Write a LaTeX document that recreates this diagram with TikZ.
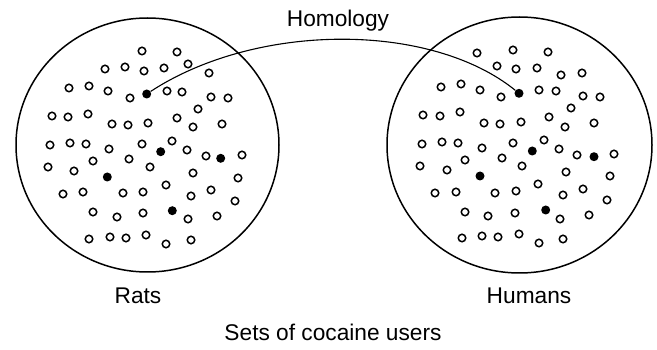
\documentclass[tikz,border=0pt]{standalone}
\usepackage{fontspec}
\setmainfont{Liberation Sans}
\tikzset{
  opendot/.style={circle, draw, line width=1.5pt, fill=white, inner sep=0pt, minimum size=7.5pt},
  userdot/.style={circle, fill=black, inner sep=0pt, minimum size=9pt},
  setlabel/.style={anchor=base, inner sep=0pt, font=\fontsize{22.7}{27}\selectfont}
}
\begin{document}
\begin{tikzpicture}[x=1pt, y=-1pt]
  \useasboundingbox (0,0) rectangle (657,350);
  \draw[line width=1.5pt] (147.5,145) ellipse [x radius=131.5pt, y radius=127pt];
  \draw[line width=1.5pt] (519.5,145) ellipse [x radius=132.5pt, y radius=128pt];
  % rats
  \foreach \x/\y [count=\i] in {142/51, 177/52, 105/69, 125/67, 144/71, 164/68, 188/64, 209/73,
      69/88, 89/86, 108/91, 130/98, 167/91, 182/92, 211/97, 228/98, 198/109,
      52/116, 68/117, 88/114, 112/124, 128/125, 148/123, 177/118, 193/127, 222/124,
      50/145, 70/143, 86/144, 109/149, 142/144, 172/141, 187/150, 206/156, 242/155,
      48/167, 74/171, 93/161, 129/159, 150/167, 193/173, 238/178,
      63/194, 83/192, 123/193, 143/192, 166/185, 191/196, 211/190, 235/201,
      93/212, 117/217, 143/213, 188/219, 217/216,
      89/239, 110/237, 126/238, 146/235, 166/244, 191/240}
    \node[opendot] (r\i) at (\x,\y) {};
  \node[userdot] (r-sel) at (146.7,94) {};
  \foreach \x/\y [count=\i] in {160.7/151.7, 220.7/158.3, 107.3/177, 172.3/210.7}
    \node[userdot] (r-use\i) at (\x,\y) {};
  % humans
  \foreach \x/\y [count=\i] in {477/53, 513/50, 548/52, 497/66, 516/69, 537/68, 561/75, 582/73,
      441/87, 461/84, 480/90, 501/97, 539/90, 556/91, 583/96, 600/97, 571/108,
      423/115, 440/116, 460/112, 484/123, 500/124, 521/122, 549/117, 565/127, 594/123,
      422/144, 442/142, 458/143, 482/148, 513/143, 544/140, 559/149, 577/155, 614/154,
      420/166, 447/170, 465/160, 502/158, 522/166, 566/172, 610/176,
      435/193, 456/192, 495/193, 516/191, 538/184, 563/195, 583/189, 607/200,
      465/212, 488/216, 515/213, 560/219, 589/215,
      462/238, 482/236, 498/237, 519/234, 539/243, 563/239}
    \node[opendot] (h\i) at (\x,\y) {};
  \node[userdot] (h-sel) at (519,93.3) {};
  \foreach \x/\y [count=\i] in {532.3/151, 594/156.7, 480/176, 545.7/210}
    \node[userdot] (h-use\i) at (\x,\y) {};
  \draw[line width=1.1pt] (r-sel) .. controls (257,22) and (431,22) .. (h-sel);
  \node[setlabel] (homology) at (338,27) {Homology};
  \node[setlabel] (rats) at (138,304) {Rats};
  \node[setlabel] (humans) at (529,304) {Humans};
  \node[setlabel] (caption) at (333,341) {Sets of cocaine users};
\end{tikzpicture}
\end{document}
